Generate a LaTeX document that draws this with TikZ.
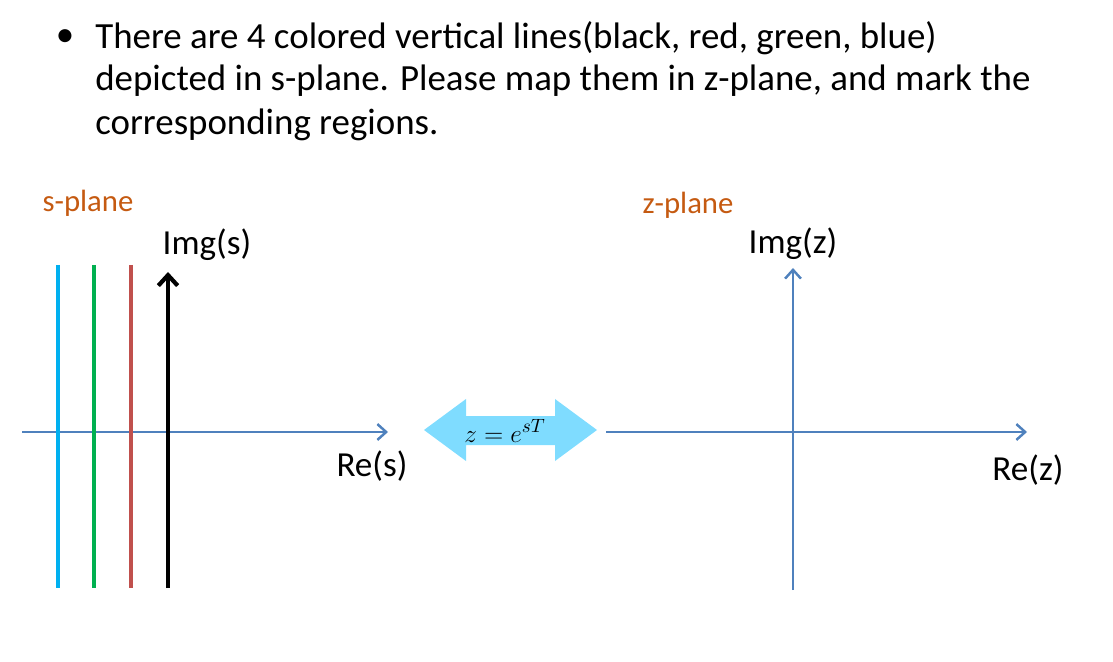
\documentclass[tikz,border=0pt]{standalone}
\usepackage{fontspec}
\setmainfont{Carlito}
\usetikzlibrary{arrows.meta}
\definecolor{axblue}{HTML}{4F81BD}
\definecolor{orng}{HTML}{C55A11}
\definecolor{cyn}{HTML}{00B0F0}
\definecolor{grn}{HTML}{00B050}
\definecolor{rd}{HTML}{C0504D}
\definecolor{lblue}{HTML}{7FDCFF}
\begin{document}
\begin{tikzpicture}[x=0.02cm,y=-0.02cm,
  txt/.style={font=\fontsize{21}{24}\selectfont,inner sep=0pt},
  lbl/.style={font=\fontsize{20}{23}\selectfont,inner sep=0pt},
  olbl/.style={font=\fontsize{17.5}{20}\selectfont,inner sep=0pt,text=orng},
  axis/.style={axblue,line width=1.4pt,-{Straight Barb[length=5pt,width=9pt]}},
  vline/.style={line width=2.4pt}]
\useasboundingbox (0,0) rectangle (1113,662);
\node[txt] (bul) at (65,38) {•};
\node[txt,anchor=west] (t1) at (95,38) {There are 4 colored vertical lines(black, red, green, blue)};
\node[txt,anchor=west] (t2) at (95,81) {depicted in s-plane. Please map them in z-plane, and mark the};
\node[txt,anchor=west] (t3) at (95,125) {corresponding regions.};
\node[olbl] (sp) at (88,203) {s-plane};
\node[olbl] (zp) at (688,205) {z-plane};
% s-plane
\coordinate (sx0) at (22,432); \coordinate (sx1) at (388,432);
\draw[axis] (sx0) -- (sx1);
\coordinate (c0) at (58,265); \coordinate (c1) at (58,588);
\coordinate (g0) at (94,265); \coordinate (g1) at (94,588);
\coordinate (r0) at (131,265); \coordinate (r1) at (131,588);
\coordinate (b0) at (168,588); \coordinate (b1) at (168,272);
\draw[vline,cyn] (c0) -- (c1);
\draw[vline,grn] (g0) -- (g1);
\draw[vline,rd] (r0) -- (r1);
\draw[vline,black,-{Straight Barb[length=6pt,width=11pt]}] (b0) -- (b1);
\node[lbl] (imgs) at (207,245) {Img(s)};
\node[lbl] (res) at (372,466) {Re(s)};
% mapping arrow
\fill[lblue] (424,430) -- (466,399) -- (466,416) -- (555,416) -- (555,399) -- (597,430)
  -- (555,461) -- (555,445) -- (466,445) -- (466,461) -- cycle;
\node[font=\fontsize{15}{17}\selectfont] (eq) at (505,431) {$z=e^{sT}$};
% z-plane
\coordinate (zx0) at (606,432); \coordinate (zx1) at (1027,432);
\coordinate (zy0) at (793,590); \coordinate (zy1) at (793,268);
\draw[axis] (zx0) -- (zx1);
\draw[axis] (zy0) -- (zy1);
\node[lbl] (imgz) at (793,244) {Img(z)};
\node[lbl] (rez) at (1028,470) {Re(z)};
\end{tikzpicture}
\end{document}
